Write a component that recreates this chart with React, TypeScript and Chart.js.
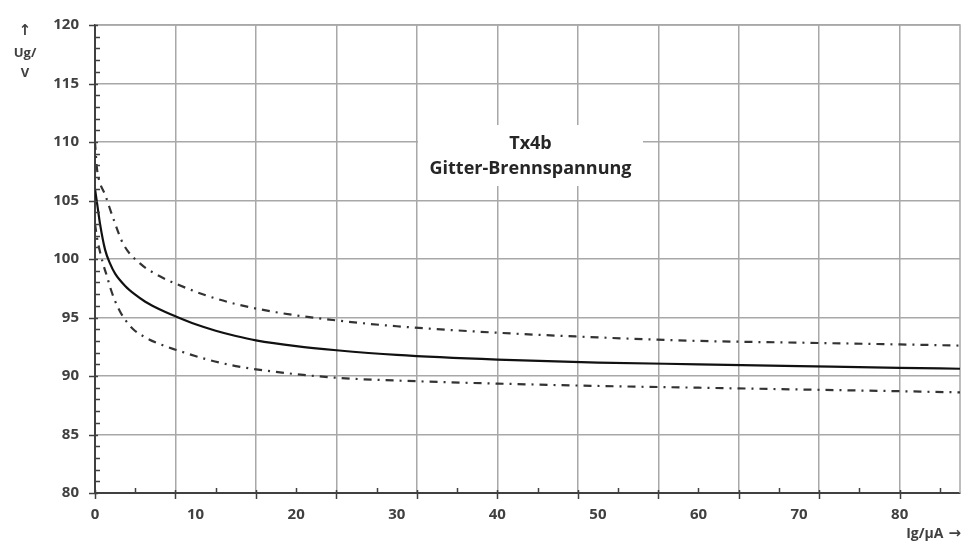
import React, { useEffect, useRef } from "react";
import { Chart, registerables } from "chart.js";

Chart.register(...registerables);

// Ig in µA, Ug in V
const xMid = [0, 0.25, 0.5, 1, 1.5, 2, 3, 4, 5, 6, 7, 8, 10, 12, 14, 16, 20, 24, 30, 40, 50, 60, 70, 80, 86];
const yMid = [106, 104.5, 103, 100.8, 99.6, 98.75, 97.7, 96.95, 96.35, 95.88, 95.47, 95.1, 94.42, 93.87, 93.42, 93.05, 92.55, 92.2, 91.8, 91.4, 91.15, 91.0, 90.85, 90.7, 90.62];

const xUpper = [0, 0.2, 0.5, 1, 1.8, 2.8, 4.5, 6.5, 8, 11, 14, 18, 24, 30, 40, 50, 60, 70, 80, 86];
const yUpper = [110, 107.7, 106.5, 105.5, 103.5, 101.3, 99.6, 98.5, 97.9, 96.9, 96.15, 95.45, 94.75, 94.25, 93.7, 93.3, 93.0, 92.85, 92.7, 92.6];

const xLower = [0, 0.2, 0.5, 0.8, 1.2, 1.5, 2, 2.5, 3, 3.8, 5, 6.5, 8, 11, 14, 18, 24, 32, 40, 50, 60, 70, 80, 86];
const yLower = [103, 101.8, 100.6, 99.6, 98.5, 97.6, 96.4, 95.5, 94.8, 94.0, 93.3, 92.7, 92.25, 91.45, 90.85, 90.35, 89.85, 89.55, 89.35, 89.15, 89.0, 88.85, 88.7, 88.6];

const xLabelTicks = [0, 10, 20, 30, 40, 50, 60, 70, 80];
const xGridTicks = [0, 8, 16, 24, 32, 40, 48, 56, 64, 72, 80];
const X_MIN = 0;
const X_MAX = 86;
const Y_MIN = 80;
const Y_MAX = 120;

const titleLines = ["Tx4b", "Gitter-Brennspannung"];
const yTitleLines = ["↑", "Ug/", "V"];
const xTitleText = "Ig/µA";
const xTitleArrow = "→";

const FONT = "'Open Sans', 'Liberation Sans', sans-serif";
const ARROW_FONT = "'DejaVu Sans', sans-serif";
const GRID = "#a8a8a8";
const AXIS = "#404040";
const TEXT = "#404040";

const pts = (xs: number[], ys: number[]) => xs.map((x, i) => ({ x, y: ys[i] }));

const overlay = {
  id: "overlay",
  beforeDatasetsDraw(chart: any) {
    const { ctx, chartArea: a } = chart;
    ctx.save();
    // border top/right
    ctx.strokeStyle = GRID;
    ctx.lineWidth = 1.5;
    ctx.beginPath();
    ctx.moveTo(a.left, a.top);
    ctx.lineTo(a.right, a.top);
    ctx.lineTo(a.right, a.bottom);
    ctx.stroke();
    // title box
    const bx = a.left + 323;
    const by = a.top + 100;
    const bw = 225;
    const bh = 61;
    ctx.fillStyle = "#ffffff";
    ctx.fillRect(bx, by, bw, bh);
    ctx.fillStyle = "#262626";
    ctx.font = `bold 18px ${FONT}`;
    ctx.textAlign = "center";
    ctx.textBaseline = "middle";
    ctx.fillText(titleLines[0], bx + bw / 2, by + 19);
    ctx.fillText(titleLines[1], bx + bw / 2, by + 44);
    ctx.restore();
  },
  afterDraw(chart: any) {
    const { ctx, chartArea: a, scales } = chart;
    const x = scales.x;
    const y = scales.y;
    ctx.save();
    ctx.strokeStyle = AXIS;
    ctx.lineWidth = 1.5;
    ctx.beginPath();
    for (let v = Y_MIN; v <= Y_MAX; v += 1) {
      const py = Math.round(y.getPixelForValue(v)) + 0.5;
      if (v % 5 === 0) {
        ctx.moveTo(a.left - 6, py);
        ctx.lineTo(a.left + 3, py);
      } else {
        ctx.moveTo(a.left, py);
        ctx.lineTo(a.left + 5, py);
      }
    }
    for (let v = X_MIN; v <= X_MAX; v += 4) {
      const px = Math.round(x.getPixelForValue(v)) + 0.5;
      if (v % 8 === 0) {
        ctx.moveTo(px, a.bottom - 3);
        ctx.lineTo(px, a.bottom + 6);
      } else {
        ctx.moveTo(px, a.bottom - 5);
        ctx.lineTo(px, a.bottom);
      }
    }
    ctx.stroke();
    // axis titles
    ctx.fillStyle = TEXT;
    ctx.textAlign = "center";
    ctx.textBaseline = "middle";
    ctx.font = `bold 15px ${ARROW_FONT}`;
    ctx.fillText(yTitleLines[0], 25, 31);
    ctx.font = `bold 13px ${FONT}`;
    ctx.fillText(yTitleLines[1], 25, 53);
    ctx.fillText(yTitleLines[2], 25, 73);
    ctx.textAlign = "right";
    ctx.font = `bold 15px ${ARROW_FONT}`;
    ctx.fillText(xTitleArrow, 961, 534);
    const aw = ctx.measureText(xTitleArrow).width;
    ctx.font = `bold 14px ${FONT}`;
    ctx.fillText(xTitleText, 961 - aw - 5, 534);
    ctx.restore();
  },
};

export default function App() {
  const ref = useRef<HTMLCanvasElement | null>(null);
  useEffect(() => {
    document.body.style.margin = "0";
    const canvas = ref.current;
    if (!canvas) return;
    const dashStyle = {
      borderColor: "#333333",
      borderWidth: 2.2,
      borderDash: [8, 6, 2, 6],
      pointRadius: 0,
      fill: false,
      cubicInterpolationMode: "monotone" as const,
    };
    const chart = new Chart(canvas, {
      type: "line",
      data: {
        datasets: [
          { label: "upper", data: pts(xUpper, yUpper), ...dashStyle },
          {
            label: "mid",
            data: pts(xMid, yMid),
            borderColor: "#111111",
            borderWidth: 2.2,
            pointRadius: 0,
            fill: false,
            cubicInterpolationMode: "monotone",
          },
          { label: "lower", data: pts(xLower, yLower), ...dashStyle },
        ],
      },
      options: {
        responsive: false,
        animation: false,
        layout: { padding: { top: 17, right: 3, left: 0, bottom: 0 } },
        plugins: { legend: { display: false }, tooltip: { enabled: false }, title: { display: false } },
        scales: {
          x: {
            type: "linear",
            min: X_MIN,
            max: X_MAX,
            afterBuildTicks: (scale: any) => {
              const vals = Array.from(new Set([...xGridTicks, ...xLabelTicks])).sort((p, q) => p - q);
              scale.ticks = vals.map((v) => ({ value: v }));
            },
            afterFit: (scale: any) => {
              scale.height = 59;
            },
            grid: {
              color: (c: any) => (c.tick && xGridTicks.includes(c.tick.value) ? GRID : "rgba(0,0,0,0)"),
              lineWidth: 1.5,
              drawTicks: false,
            },
            border: { color: AXIS, width: 2 },
            ticks: {
              autoSkip: false,
              maxRotation: 0,
              padding: 13,
              color: TEXT,
              font: { family: FONT, size: 15, weight: "bold" },
              callback: (v: any) => (xLabelTicks.includes(Number(v)) ? String(v) : ""),
            },
          },
          y: {
            type: "linear",
            min: Y_MIN,
            max: Y_MAX,
            afterFit: (scale: any) => {
              scale.width = 95;
            },
            grid: { color: GRID, lineWidth: 1.5, drawTicks: false },
            border: { color: AXIS, width: 2 },
            ticks: {
              stepSize: 5,
              padding: 16,
              color: TEXT,
              font: { family: FONT, size: 15, weight: "bold" },
            },
          },
        },
      },
      plugins: [overlay],
    });
    return () => chart.destroy();
  }, []);
  return (
    <div style={{ width: 963, height: 552, background: "#ffffff" }}>
      <canvas ref={ref} width={963} height={552} style={{ display: "block" }} />
    </div>
  );
}
